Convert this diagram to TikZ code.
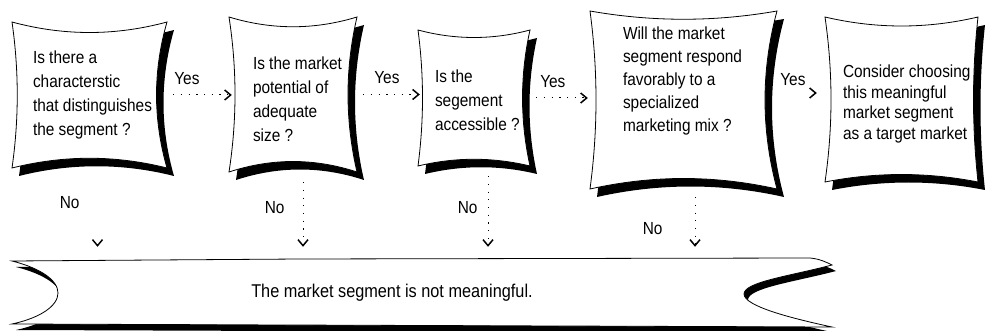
\documentclass[tikz,border=0pt]{standalone}
\usepackage{fontspec}
\setmainfont{Liberation Sans}[FakeStretch=0.88]
\usepackage{tikz}
\usetikzlibrary{arrows.meta, fit, positioning}

\tikzstyle{area} = [inner sep=0pt, draw=none]
\tikzstyle{question} = [align=left, inner sep=0pt, font=\fontsize{17.5}{24}\selectfont]
\tikzstyle{answer} = [inner sep=0pt, font=\fontsize{17.5}{20}\selectfont]
\tikzstyle{message} = [inner sep=0pt, font=\fontsize{18.5}{22}\selectfont]
\tikzstyle{yesarrow} = [line width=1pt, dash pattern=on 1.2pt off 6.5pt, -{Straight Barb[length=6pt,width=10pt,line width=1.5pt]}]
\tikzstyle{bare} = [line width=1pt, dash pattern=on 0pt off 500pt, -{Straight Barb[length=6pt,width=10pt,line width=1.5pt]}]

% wavy box: name, x1, y1, x2, y2, top, right, bottom, left
\newcommand{\wavybox}[9]{%
  \fill[black, shift={(7,8)}] (#2,#3) .. controls ({#2+(#4-#2)/3},{#3+#6}) and ({#4-(#4-#2)/3},{#3+#6}) .. (#4,#3)
    .. controls ({#4-#7},{#3+(#5-#3)/3}) and ({#4-#7},{#5-(#5-#3)/3}) .. (#4,#5)
    .. controls ({#4-(#4-#2)/3},{#5-#8}) and ({#2+(#4-#2)/3},{#5-#8}) .. (#2,#5)
    .. controls ({#2+#9},{#5-(#5-#3)/3}) and ({#2+#9},{#3+(#5-#3)/3}) .. cycle;
  \filldraw[fill=white, draw=black, line width=0.8pt] (#2,#3) .. controls ({#2+(#4-#2)/3},{#3+#6}) and ({#4-(#4-#2)/3},{#3+#6}) .. (#4,#3)
    .. controls ({#4-#7},{#3+(#5-#3)/3}) and ({#4-#7},{#5-(#5-#3)/3}) .. (#4,#5)
    .. controls ({#4-(#4-#2)/3},{#5-#8}) and ({#2+(#4-#2)/3},{#5-#8}) .. (#2,#5)
    .. controls ({#2+#9},{#5-(#5-#3)/3}) and ({#2+#9},{#3+(#5-#3)/3}) .. cycle;
  \node[area, fit={(#2,#3) (#4,#5)}] (#1) {};
}

\begin{document}
\begin{tikzpicture}[x=1pt, y=-1pt]
\useasboundingbox (0,0) rectangle (989,331);

% Boxes
\wavybox{b1}{12}{22}{167}{168}{14}{14}{13}{7}
\wavybox{b2}{229}{17}{357}{172}{13}{12}{14}{8}
\wavybox{b3}{418}{30}{530}{166}{10}{10}{9}{6}
\wavybox{b4}{590}{11}{777}{189}{11}{16}{14}{8}
\wavybox{b5}{825}{17}{978}{182}{12}{6}{10}{8}

% Banner
\fill[black, shift={(4,6)}] (12,261) -- (300,259) -- (810,258) .. controls (820,259) and (826,262) .. (832,265)
  .. controls (790,276) and (744,282) .. (744,294) .. controls (744,306) and (790,318) .. (832,327)
  -- (12,324) .. controls (40,318) and (58,306) .. (58,293) .. controls (58,280) and (40,268) .. cycle;
\filldraw[fill=white, draw=black, line width=0.8pt] (12,261) -- (300,259) -- (810,258) .. controls (820,259) and (826,262) .. (832,265)
  .. controls (790,276) and (744,282) .. (744,294) .. controls (744,306) and (790,318) .. (832,327)
  -- (12,324) .. controls (40,318) and (58,306) .. (58,293) .. controls (58,280) and (40,268) .. cycle;
\node[area, fit={(12,258) (832,327)}] (bar) {};

% Nodes
\node[question, anchor=west] (q1) at ([xshift=21pt]b1.west) {Is there a\\characterstic\\that distinguishes\\the segment ?};
\node[question, anchor=west] (q2) at ([xshift=24pt, yshift=-5pt]b2.west) {Is the market\\potential of\\adequate\\size ?};
\node[question, anchor=west] (q3) at ([xshift=17pt, yshift=-2pt]b3.west) {Is the\\segement\\accessible ?};
\node[question, anchor=west, font=\fontsize{17.5}{23}\selectfont] (q4) at ([xshift=33pt, yshift=19pt]b4.west) {Will the market\\segment respond\\favorably to a\\specialized\\marketing mix ?};
\node[question, anchor=west, font=\fontsize{17.5}{20.5}\selectfont] (q5) at ([xshift=18pt, yshift=-4.5pt]b5.west) {Consider choosing\\this meaningful\\market segment\\as a target market};
\node[message] (msg) at ([xshift=-30pt]bar.center) {The market segment is not meaningful.};

% Arrows
\draw[yesarrow, shorten <=6pt, shorten >=-3pt] (b1.east) -- (b1.east -| b2.west) node[answer, pos=0.32, above=10pt] {Yes};
\draw[yesarrow, shorten <=6pt, shorten >=-2pt] (b2.east) -- (b2.east -| b3.west) node[answer, pos=0.49, above=10pt] {Yes};
\draw[yesarrow, shorten <=6pt, shorten >=2pt] (b3.east) -- (b3.east -| b4.west) node[answer, pos=0.38, above=10pt] {Yes};
\draw[bare, shorten >=8pt] ([yshift=7pt]b4.east) -- ([yshift=7pt]b4.east -| b5.west) node[answer, pos=0.33, above=7pt] {Yes};

\draw[bare, shorten >=11pt] ([xshift=8pt]b1.south) -- ([xshift=8pt]b1.south |- bar.north) node[answer, pos=0.38, left=17.5pt] {No};
\draw[yesarrow, shorten <=10pt, shorten >=11pt] ([xshift=10pt]b2.south) -- ([xshift=10pt]b2.south |- bar.north) node[answer, pos=0.41, left=18pt] {No};
\draw[yesarrow, shorten <=10pt, shorten >=11pt] ([xshift=14pt]b3.south) -- ([xshift=14pt]b3.south |- bar.north) node[answer, pos=0.45, left=10pt] {No};
\draw[yesarrow, shorten <=8pt, shorten >=11pt] ([xshift=11.5pt]b4.south) -- ([xshift=11.5pt]b4.south |- bar.north) node[answer, pos=0.57, left=32pt] {No};
\end{tikzpicture}
\end{document}
